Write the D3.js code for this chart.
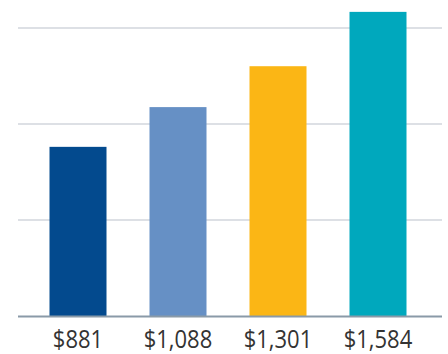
<!DOCTYPE html>
<html>
  <meta charset="utf-8">
  <head>
    <title>Bars</title>
  </head>
  <style>
    body { margin: 0; background: #fff; }
    .grid line { stroke: #d2d6dd; stroke-width: 1.5; }
    .label { font-family: "Open Sans", sans-serif; font-size: 25px; fill: #333; }
  </style>
  <script src="https://d3js.org/d3.v7.min.js"></script>
  <body>
    <svg width="448" height="354"></svg>
    <script>
      var categories = ["a", "b", "c", "d"];
      var values = [881, 1088, 1301, 1584];
      var labels = ["$881", "$1,088", "$1,301", "$1,584"];
      var colors = ["#034a8e", "#6690c5", "#fbb615", "#00a8bd"];
      var gridTicks = [500, 1000, 1500];

      var svg = d3.select("svg");

      var x = d3.scaleBand()
          .domain(categories)
          .range([28, 428])
          .paddingInner(0.43)
          .paddingOuter(0.215);

      var y = d3.scaleLinear()
          .domain([0, 1500])
          .range([316, 28]);

      svg.append("g")
          .attr("class", "grid")
        .selectAll("line")
        .data(gridTicks)
        .enter().append("line")
          .attr("x1", 18)
          .attr("x2", 442)
          .attr("y1", function(d) { return y(d); })
          .attr("y2", function(d) { return y(d); });

      svg.append("g")
        .selectAll("rect")
        .data(values)
        .enter().append("rect")
          .attr("x", function(d, i) { return x(categories[i]); })
          .attr("width", x.bandwidth())
          .attr("y", function(d) { return y(d); })
          .attr("height", function(d) { return y(0) - y(d); })
          .attr("fill", function(d, i) { return colors[i]; });

      svg.append("line")
          .attr("x1", 18)
          .attr("x2", 442)
          .attr("y1", y(0) + 0.5)
          .attr("y2", y(0) + 0.5)
          .attr("stroke", "#8a9aa8")
          .attr("stroke-width", 2);

      svg.append("g")
        .selectAll("text")
        .data(labels)
        .enter().append("text")
          .attr("class", "label")
          .attr("text-anchor", "middle")
          .attr("transform", function(d, i) {
            var cx = x(categories[i]) + x.bandwidth() / 2;
            return "translate(" + cx + ",348) scale(0.88,1)";
          })
          .text(function(d) { return d; });
    </script>
  </body>
</html>
